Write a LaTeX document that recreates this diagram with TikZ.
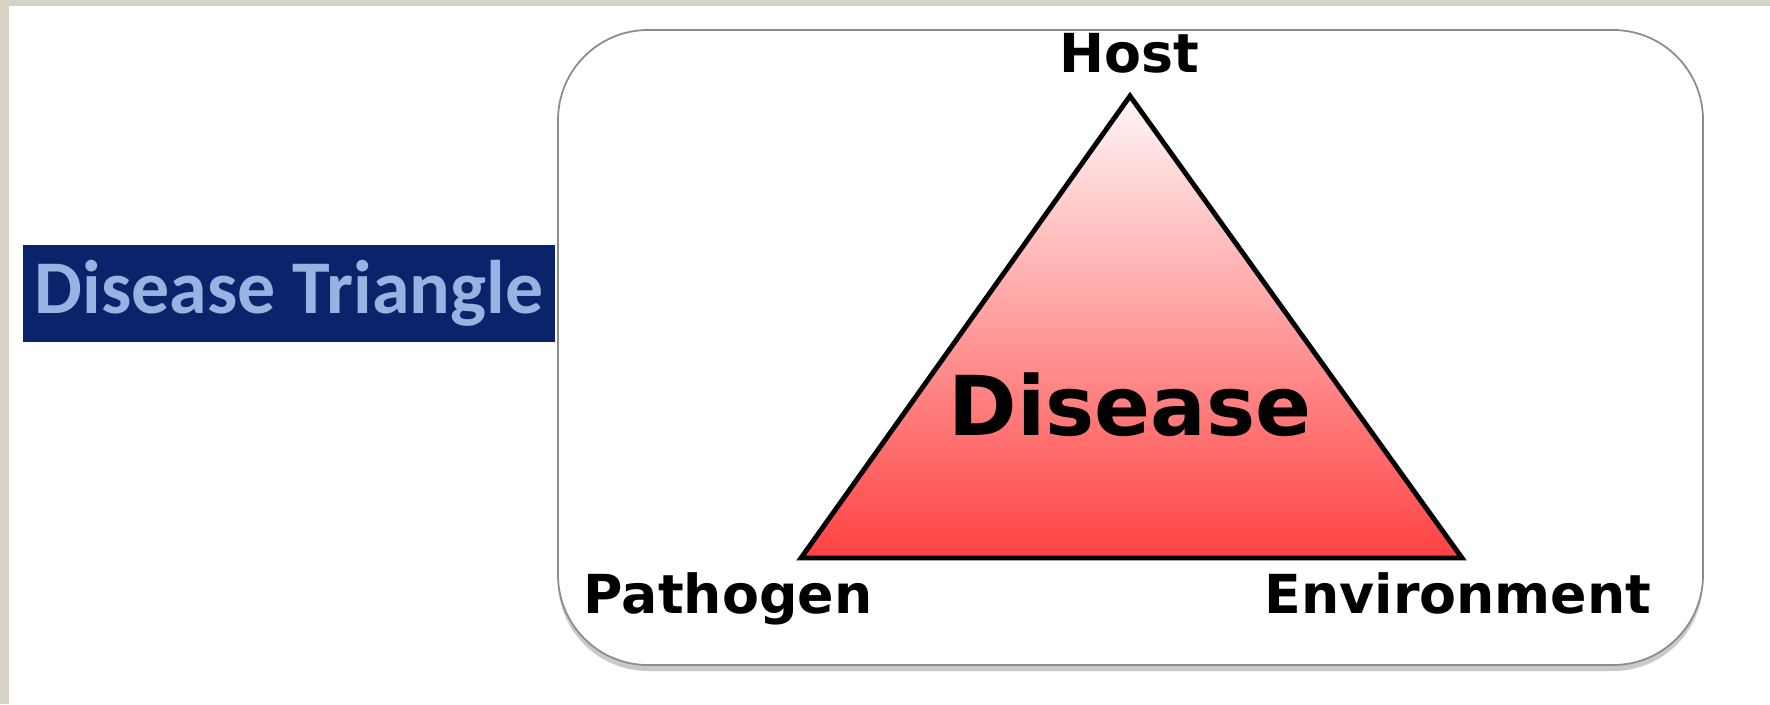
\documentclass[tikz,border=0pt]{standalone}
\usepackage{fontspec}
\setmainfont{DejaVu Sans}
\newfontfamily\titlefont{Carlito}
\usepackage{tikz}
\usetikzlibrary{shadows}

\definecolor{frame}{RGB}{214,211,196}
\definecolor{navy}{RGB}{10,36,108}
\definecolor{paleblue}{RGB}{150,180,226}
\definecolor{pinktop}{RGB}{255,246,246}
\definecolor{redbot}{RGB}{255,66,66}

\begin{document}
\begin{tikzpicture}[
    title/.style={fill=navy, text=paleblue, inner sep=0pt,
      minimum width=5.32cm, minimum height=.97cm, font=\titlefont\bfseries\fontsize{21.6}{21.6}\selectfont},
    panel/.style={draw=black!45, line width=.5pt, fill=white, rounded corners=.9cm,
      drop shadow={shadow xshift=0pt, shadow yshift=-.06cm, opacity=.35, fill=black!60}},
    tri/.style={draw=black, line width=1.4pt, line join=miter,
      top color=pinktop, bottom color=redbot},
    corner/.style={font=\bfseries\fontsize{15.3}{15.3}\selectfont, anchor=base},
    centre/.style={font=\bfseries\fontsize{23.5}{23.5}\selectfont, anchor=base},
  ]
    \useasboundingbox (0,0) rectangle (17.7,-7.04);
    \fill[white] (0,0) rectangle (17.7,-7.04);
    \fill[frame] (0,0) rectangle (17.7,-.06);
    \fill[frame] (0,0) rectangle (.09,-7.04);

    \node[title] (name) at (2.89,-2.935) {Disease Triangle};

    \path[panel] (5.58,-.30) rectangle (17.03,-6.65);

    \coordinate (top) at (11.30,-.96);
    \coordinate (left) at (8.01,-5.58);
    \coordinate (right) at (14.62,-5.58);
    \path[tri] (top) -- (right) -- (left) -- cycle;

    \node[corner] (host) at (11.29,-.72) {Host};
    \node[corner] (pathogen) at (7.28,-6.13) {Pathogen};
    \node[corner] (environment) at (14.58,-6.13) {Environment};
    \node[centre] (disease) at (11.30,-4.35) {Disease};
  \end{tikzpicture}
\end{document}
